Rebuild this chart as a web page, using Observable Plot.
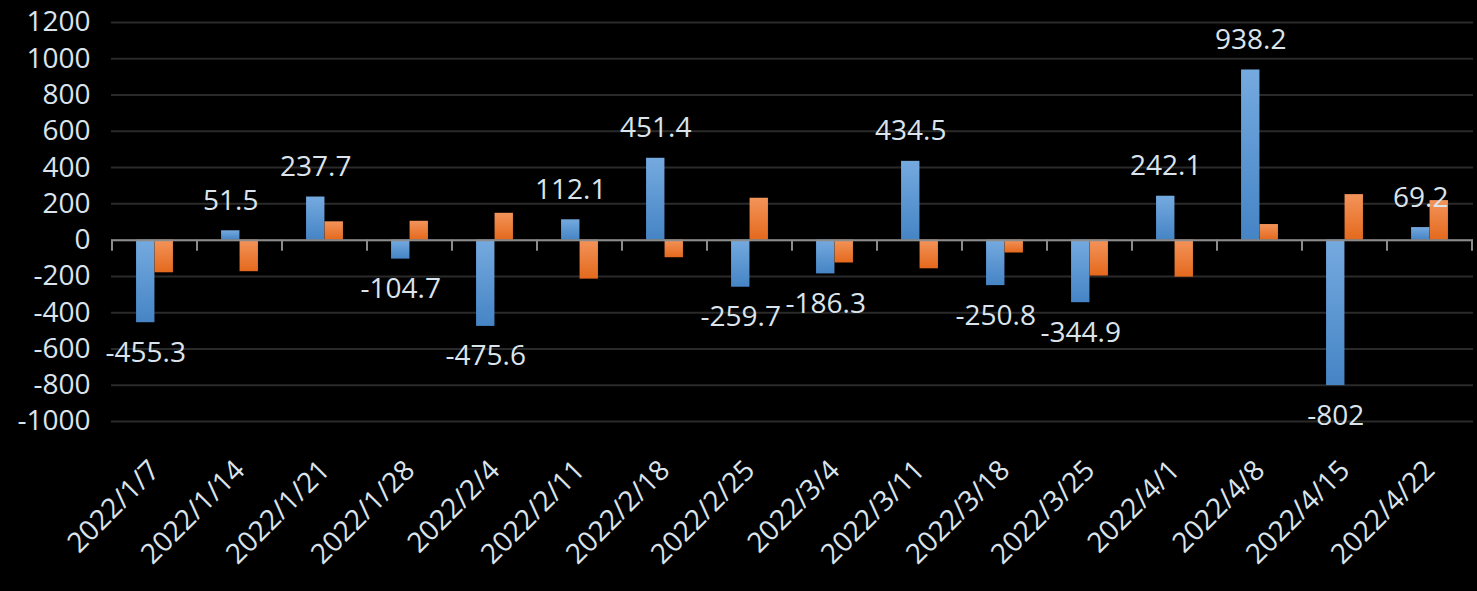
<!DOCTYPE html>
<html><head><meta charset="utf-8">
<script src="https://cdn.jsdelivr.net/npm/d3@7"></script>
<script src="https://cdn.jsdelivr.net/npm/@observablehq/plot@0.6"></script>
<style>html,body{margin:0;padding:0;background:#000;overflow:hidden;}</style>
</head><body><div id="chart"></div>
<script>
// ---- data ----
const dates = ["2022/1/7","2022/1/14","2022/1/21","2022/1/28","2022/2/4","2022/2/11","2022/2/18","2022/2/25","2022/3/4","2022/3/11","2022/3/18","2022/3/25","2022/4/1","2022/4/8","2022/4/15","2022/4/22"];
const seriesBlue = [-455.3, 51.5, 237.7, -104.7, -475.6, 112.1, 451.4, -259.7, -186.3, 434.5, -250.8, -344.9, 242.1, 938.2, -802, 69.2];
const seriesOrange = [-180, -174, 101, 104, 148, -215, -97, 231, -126, -158, -71, -198, -204, 86, 251, 218];
const yTicks = [-1000, -800, -600, -400, -200, 0, 200, 400, 600, 800, 1000, 1200];

// ---- layout/style ----
const W = 1477, H = 591;
const ML = 111, MR = 4, MT = 22, MB = 170;
const STEP = (W - ML - MR) / dates.length;
const BAR = 18.5;
const TEXT = "#dbe4ec";
const FONT = "'Open Sans', 'Noto Sans', sans-serif";

const blue = dates.map((d, i) => ({date: d, value: seriesBlue[i]}));
const orange = dates.map((d, i) => ({date: d, value: seriesOrange[i]}));

function gradients() {
  const g = d3.create("svg:g");
  const defs = g.append("defs");
  const mk = (id, c0, c1) => {
    const lg = defs.append("linearGradient").attr("id", id)
      .attr("x1", 0).attr("y1", 0).attr("x2", 0).attr("y2", 1);
    lg.append("stop").attr("offset", "0%").attr("stop-color", c0);
    lg.append("stop").attr("offset", "100%").attr("stop-color", c1);
  };
  mk("gBlue", "#75aadf", "#4584c5");
  mk("gOrange", "#f3945a", "#e4691d");
  return g.node();
}

function boundaryTicks(index, scales, values, dims) {
  const x = scales.x, y = scales.y;
  const step = typeof x.step === "function" ? x.step() : STEP;
  const y0 = y(0);
  const edges = dates.map(d => x(d)).concat([x(dates[dates.length - 1]) + step]);
  const g = d3.create("svg:g").attr("stroke", "#8c8c8c").attr("stroke-width", 2);
  for (const e of edges) {
    g.append("line").attr("x1", e).attr("x2", e).attr("y1", y0).attr("y2", y0 + 11);
  }
  return g.node();
}

const chart = Plot.plot({
  width: W, height: H,
  marginLeft: ML, marginRight: MR, marginTop: MT, marginBottom: MB,
  style: {background: "#000", color: TEXT, fontFamily: FONT, fontSize: "28px"},
  x: {domain: dates, padding: 0, label: null},
  y: {domain: [-1000, 1200], label: null},
  marks: [
    gradients,
    Plot.ruleY(yTicks, {stroke: "#2a2a2a", strokeWidth: 2}),
    Plot.axisY({ticks: yTicks, tickSize: 0, tickPadding: 21, tickFormat: d => String(d), fontSize: 28, fill: TEXT, label: null}),
    Plot.axisX({tickSize: 0, tickPadding: 44, tickRotate: -45, fontSize: 28, fill: TEXT, label: null}),
    Plot.barY(blue, {x: "date", y: "value", fill: "url(#gBlue)", insetLeft: STEP / 2 - BAR, insetRight: STEP / 2}),
    Plot.barY(orange, {x: "date", y: "value", fill: "url(#gOrange)", insetLeft: STEP / 2, insetRight: STEP / 2 - BAR}),
    Plot.ruleY([0], {stroke: "#8c8c8c", strokeWidth: 2}),
    boundaryTicks,
    Plot.text(blue.filter(d => d.value >= 0), {x: "date", y: "value", text: d => String(d.value), dx: -BAR / 2, dy: -30, fill: TEXT, fontSize: 28}),
    Plot.text(blue.filter(d => d.value < 0), {x: "date", y: "value", text: d => String(d.value), dx: -BAR / 2, dy: 30, fill: TEXT, fontSize: 28})
  ]
});
document.getElementById("chart").appendChild(chart);
</script>
</body></html>
